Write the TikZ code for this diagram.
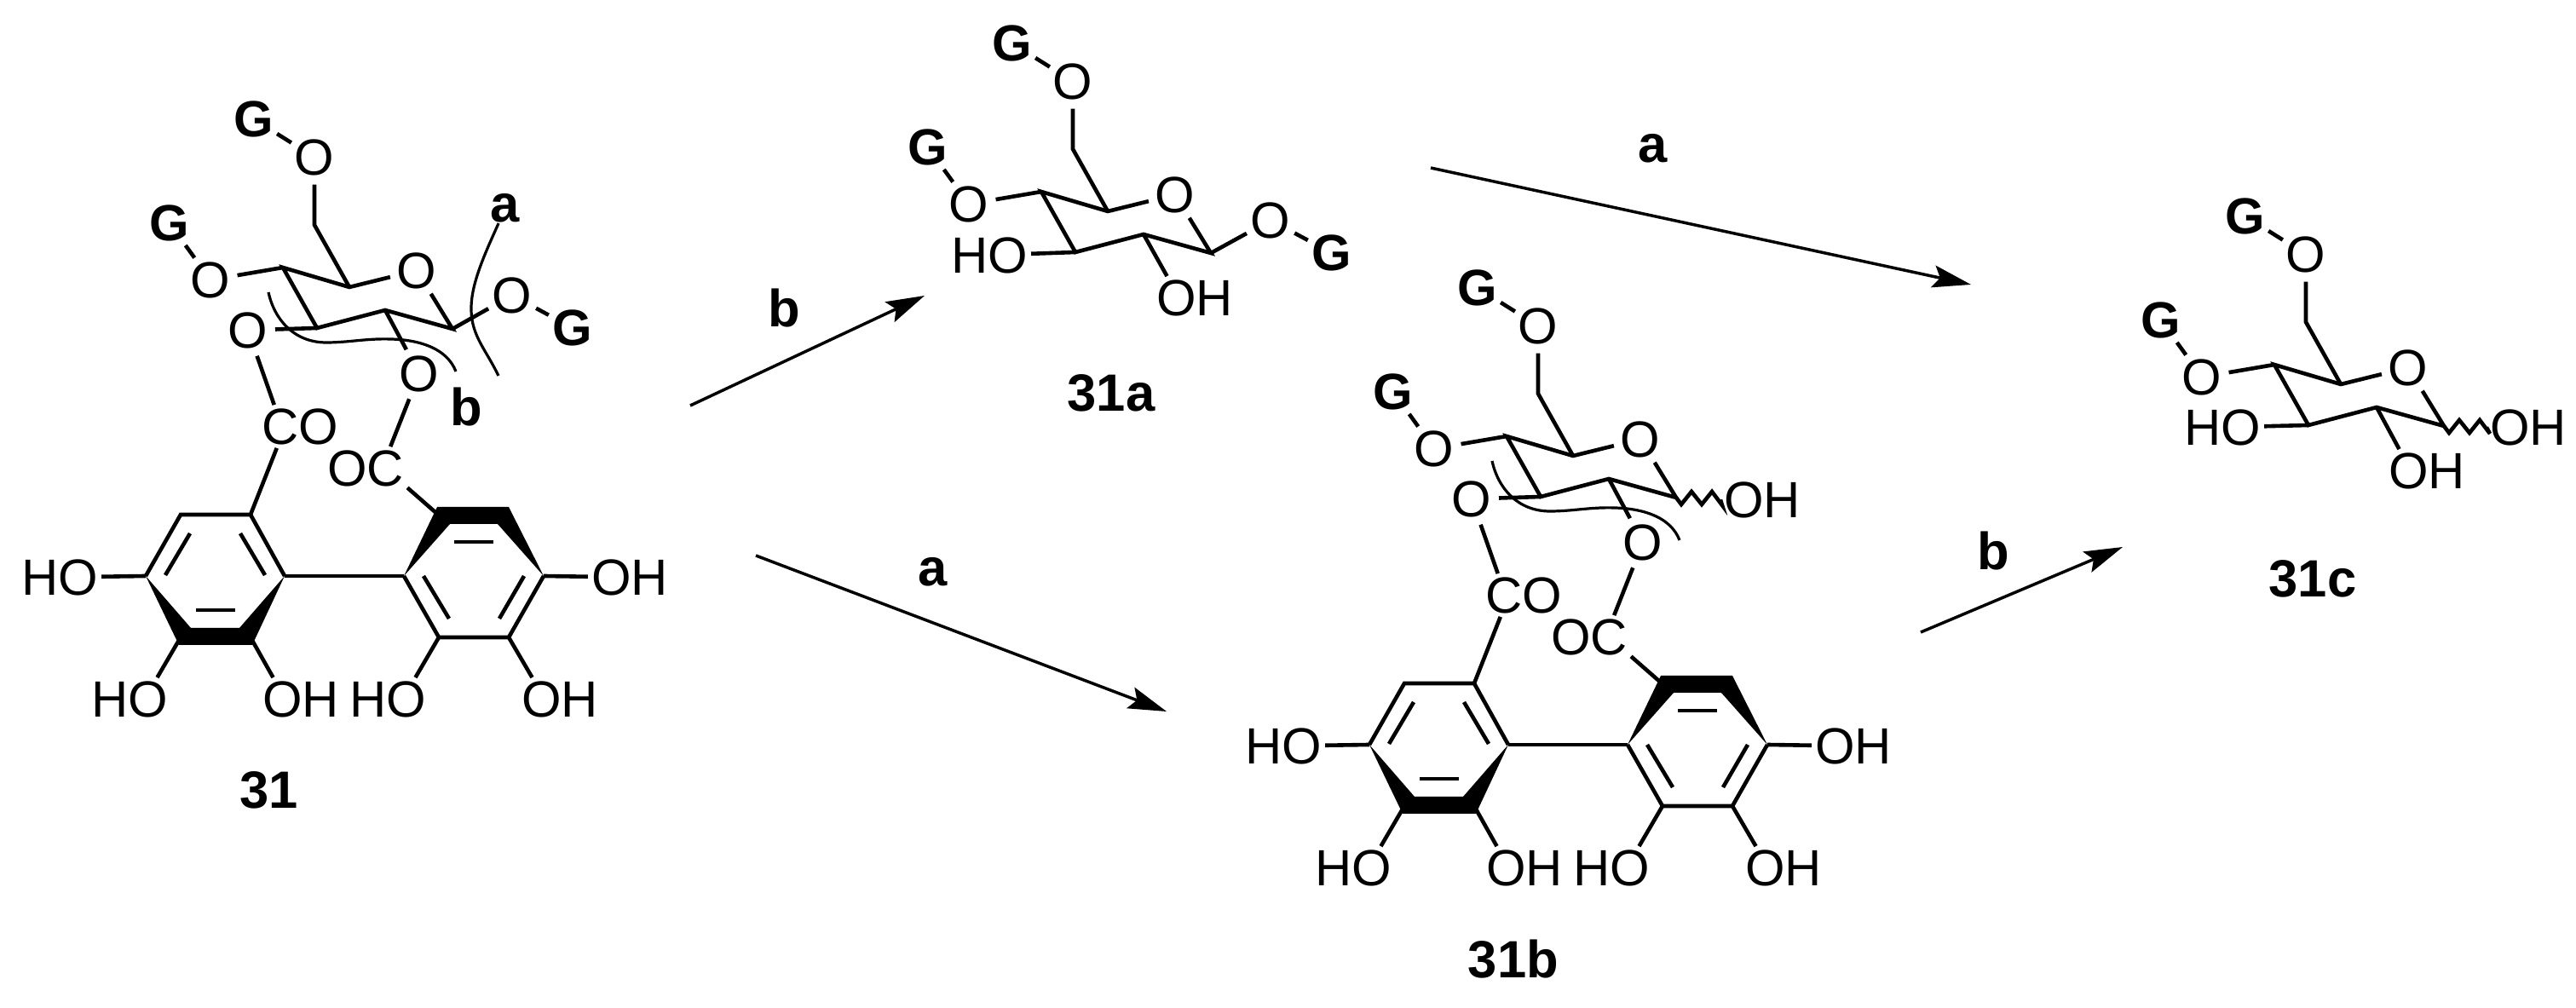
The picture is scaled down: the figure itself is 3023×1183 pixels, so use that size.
\documentclass[tikz,border=0pt]{standalone}
\usepackage{fontspec}
\setmainfont{Liberation Sans}
\usetikzlibrary{arrows.meta}

\tikzset{
  sugar/.pic={
    \coordinate (c1) at (531,386);
    \coordinate (c2) at (452,364);
    \coordinate (c3) at (372,385);
    \coordinate (c4) at (332,314);
    \coordinate (c5) at (410,337);
    \coordinate (c6) at (369,264);
    \node[oxy] (ro) at (489,315) {O};
    \node[oxy] (o4) at (247,326) {O};
    \node[oxy] (o6) at (369,182) {O};
    \node[grp] (g4) at (199,262) {G};
    \node[grp] (g6) at (298,140) {G};

    \draw[bond] (ro) -- (c1) -- (c2) -- (c3) -- (c4) -- (c5) -- (ro);
    \draw[bond] (c4) -- (o4);
    \draw[bond] (o4) -- (g4);
    \draw[bond] (c5) -- (c6) -- (o6);
    \draw[bond] (o6) -- (g6);
  },
  tannin/.pic={
    \node[oxy] (o3) at (291,385) {O};
    \node[oxy] (o2) at (492,436) {O};
    \node[txt] (co) at (352,498) {CO};
    \node[txt] (oc) at (429,547) {OC};
    \coordinate (la) at (171,676);
    \coordinate (lb) at (212,604);
    \coordinate (lc) at (294,604);
    \coordinate (ld) at (334,676);
    \coordinate (le) at (294,748);
    \coordinate (lf) at (212,748);
    \coordinate (ra) at (474,676);
    \coordinate (rb) at (513,603);
    \coordinate (rc) at (597,603);
    \coordinate (rd) at (638,676);
    \coordinate (re) at (597,748);
    \coordinate (rf) at (515,748);
    \node[txt] (h1) at (70,675) {HO};
    \node[txt] (h2) at (152,818) {HO};
    \node[txt] (h3) at (353,818) {OH};
    \node[txt] (h4) at (455,818) {HO};
    \node[txt] (h5) at (657,818) {OH};
    \node[txt] (h6) at (739,675) {OH};

    % inner lines of the two rings
    \coordinate (i1) at (223,626);
    \coordinate (i2) at (194,675);
    \coordinate (i3) at (282,626);
    \coordinate (i4) at (311,675);
    \coordinate (i5) at (230,716);
    \coordinate (i6) at (276,716);
    \coordinate (j1) at (533,636);
    \coordinate (j2) at (579,636);
    \coordinate (j3) at (497,676);
    \coordinate (j4) at (527,726);
    \coordinate (j5) at (615,676);
    \coordinate (j6) at (586,726);

    \draw[bond] (c3) -- (o3);
    \draw[bond] (c2) -- (o2);
    \draw[bond] (o3) -- (co.140);
    \draw[bond] (o2) -- (oc.41);
    \draw[bond] (co.223) -- (lc);
    \draw[bond] (oc.-25) -- (rb);
    \draw[cutline] (315,343) .. controls (322,375) and (345,402) .. (383,402)
      .. controls (410,402) and (430,397) .. (459,398)
      .. controls (495,399) and (525,410) .. (535,436);

    \fill (la) -- (210,757) -- (296,757) -- (ld) -- (281,737) -- (224,737) -- cycle;
    \fill (ra) -- (513,595) -- (597,595) -- (rd) -- (584,615) -- (528,615) -- cycle;
    \draw[bond] (la) -- (lb) -- (lc) -- (ld);
    \draw[bond] (ra) -- (rf) -- (re) -- (rd);
    \draw[bond] (ld) -- (ra);
    \draw[bond] (i1) -- (i2);
    \draw[bond] (i3) -- (i4);
    \draw[bond] (i5) -- (i6);
    \draw[bond] (j1) -- (j2);
    \draw[bond] (j3) -- (j4);
    \draw[bond] (j5) -- (j6);
    \draw[bond] (la) -- (h1);
    \draw[bond] (lf) -- (h2.38);
    \draw[bond] (le) -- (h3.142);
    \draw[bond] (rf) -- (h4.38);
    \draw[bond] (re) -- (h5.142);
    \draw[bond] (rd) -- (h6);
  }
}

\begin{document}
\begin{tikzpicture}[x=0.01cm,y=-0.01cm,
    bond/.style={line width=0.046cm},
    cutline/.style={line width=0.032cm},
    rxn/.style={line width=0.035cm,-{Stealth[length=0.45cm,width=0.26cm,inset=0.08cm]}},
    oxy/.style={circle,inner sep=0pt,yshift=-0.025cm,font=\fontsize{17}{18}\selectfont},
    grp/.style={circle,inner sep=0pt,font=\fontsize{17}{18}\selectfont\bfseries},
    txt/.style={inner sep=1pt,yshift=-0.025cm,font=\fontsize{17}{18}\selectfont},
    lbl/.style={inner sep=0pt,yshift=-0.025cm,font=\fontsize{17.5}{19}\selectfont\bfseries}]
    \useasboundingbox (0,0) rectangle (3023,1183);

    % 31
    \pic (s31-) at (0,0) {sugar};
    \pic (s31-) at (0,0) {tannin};
    \node[oxy] (s31-o1) at (601,344) {O};
    \node[grp] (s31-g1) at (672,385) {G};
    \draw[bond] (s31-c1) -- (s31-o1);
    \draw[bond] (s31-o1) -- (s31-g1);
    \node[lbl] (cuta) at (593,242) {a};
    \node[lbl] (cutb) at (547,475) {b};
    \draw[cutline] (cuta) .. controls (568,300) and (552,335) .. (553,365)
      .. controls (554,395) and (570,410) .. (585,441);
    \node[lbl] (n31) at (316,925) {31};

    % 31a
    \pic (s31a-) at (890,-89) {sugar};
    \node[oxy] (s31a-o1) at (1491,256) {O};
    \node[grp] (s31a-g1) at (1563,297) {G};
    \node[txt] (s31a-h3) at (1161,297) {HO};
    \node[txt] (s31a-h2) at (1402,347) {OH};
    \draw[bond] (s31a-c1) -- (s31a-o1);
    \draw[bond] (s31a-o1) -- (s31a-g1);
    \draw[bond] (s31a-c3) -- (s31a-h3);
    \draw[bond] (s31a-c2) -- (s31a-h2.142);
    \node[lbl] (n31a) at (1304,459) {31a};

    % 31b
    \pic (s31b-) at (1436,198) {sugar};
    \pic (s31b-) at (1436,198) {tannin};
    \node[txt] (s31b-h1) at (2068,584) {OH};
    \draw[bond] (s31b-c1) -- ++(6,8) -- ++(12,-15) -- ++(12,15) -- ++(12,-15) -- ++(12,16) -- (s31b-h1.west);
    \node[lbl] (n31b) at (1776,1123) {31b};

    % 31c
    \pic (s31c-) at (2337,114) {sugar};
    \node[txt] (s31c-h3) at (2608,499) {HO};
    \node[txt] (s31c-h2) at (2848,550) {OH};
    \node[txt] (s31c-h1) at (2967,499) {OH};
    \draw[bond] (s31c-c3) -- (s31c-h3);
    \draw[bond] (s31c-c2) -- (s31c-h2.142);
    \draw[bond] (s31c-c1) -- ++(6,8) -- ++(12,-15) -- ++(12,15) -- ++(12,-15) -- ++(12,16) -- (s31c-h1.west);
    \node[lbl] (n31c) at (2714,677) {31c};

    % arrows
    \coordinate (p1) at (810,476);
    \coordinate (p2) at (1085,347);
    \coordinate (p3) at (887,652);
    \coordinate (p4) at (1369,835);
    \coordinate (p5) at (1679,197);
    \coordinate (p6) at (2313,334);
    \coordinate (p7) at (2254,742);
    \coordinate (p8) at (2491,642);
    \draw[rxn] (p1) -- (p2);
    \draw[rxn] (p3) -- (p4);
    \draw[rxn] (p5) -- (p6);
    \draw[rxn] (p7) -- (p8);
    \node[lbl] (r1) at (920,359) {b};
    \node[lbl] (r2) at (1095,669) {a};
    \node[lbl] (r3) at (1940,172) {a};
    \node[lbl] (r4) at (2339,644) {b};
\end{tikzpicture}
\end{document}
